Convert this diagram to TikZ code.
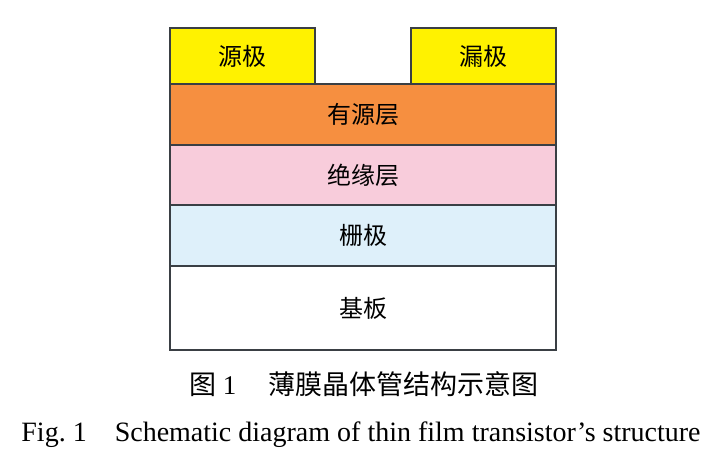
\documentclass[tikz,border=0pt]{standalone}
\usepackage{fontspec}
\setmainfont{Liberation Serif}
\newfontfamily\cjk{Noto Sans CJK SC}
\usetikzlibrary{positioning}
\definecolor{contactyellow}{HTML}{FFF200}
\definecolor{activeorange}{HTML}{F68F40}
\definecolor{insupink}{HTML}{F8CCDB}
\definecolor{gateblue}{HTML}{DEF0FA}
\definecolor{edgegray}{HTML}{3A3F44}

\begin{document}
\begin{tikzpicture}
  [x=1pt,y=-1pt,
   layer/.style={draw=edgegray,line width=1.3pt,inner sep=0pt,outer sep=0pt,
     minimum width=386pt,font=\cjk\fontsize{24}{24}\selectfont},
   contact/.style={layer,fill=contactyellow,minimum width=145pt,minimum height=56pt}]
  \useasboundingbox (0,0) rectangle (726,462);

  % stack of layers
  \node[layer,fill=activeorange,minimum height=61pt,anchor=north west] (active) at (170,84) {有源层};
  \node[layer,fill=insupink,minimum height=60pt,below=0pt of active] (insul) {绝缘层};
  \node[layer,fill=gateblue,minimum height=61pt,below=0pt of insul] (gate) {栅极};
  \node[layer,fill=white,minimum height=84pt,below=0pt of gate] (subst) {基板};

  % contacts on top
  \node[contact,anchor=south west] (source) at (active.north west) {源极};
  \node[contact,anchor=south east] (drain) at (active.north east) {漏极};

  % captions
  \node[font=\fontsize{27}{27}\selectfont] (capcn) at (364,384) {{\cjk 图}~1\hspace{1.2em}{\cjk 薄膜晶体管结构示意图}};
  \node[font=\fontsize{28}{28}\selectfont] (capen) at (361,435) {Fig.~1\hspace{1em}Schematic diagram of thin film transistor’s structure};
\end{tikzpicture}
\end{document}
